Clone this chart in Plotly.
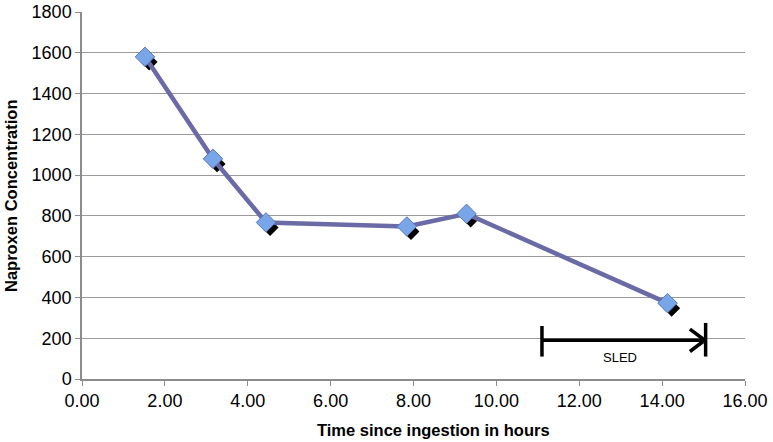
import plotly.graph_objects as go

hours = [1.52, 3.16, 4.44, 7.84, 9.28, 14.13]
concentration = [1580, 1080, 768, 748, 810, 372]

x_ticks = [0, 2, 4, 6, 8, 10, 12, 14, 16]
x_tick_labels = ["0.00", "2.00", "4.00", "6.00", "8.00", "10.00", "12.00", "14.00", "16.00"]
y_ticks = [0, 200, 400, 600, 800, 1000, 1200, 1400, 1600, 1800]

x_title = "Time since ingestion in hours"
y_title = "Naproxen Concentration"

sled_start, sled_end, sled_level = 11.1, 15.05, 190
sled_label = "SLED"

W, H = 773, 442
l, r, t, b = 82, 28, 12, 442 - 379
pw, ph = W - l - r, H - t - b


def px_to_paper(px, py):
    return (px - l) / pw, (H - b - py) / ph


fig = go.Figure()

# shadow markers
fig.add_trace(go.Scatter(
    x=[h + 0.1 for h in hours], y=[c - 25 for c in concentration],
    mode="markers",
    marker=dict(symbol="diamond", size=13, color="black"),
    hoverinfo="skip", showlegend=False))

fig.add_trace(go.Scatter(
    x=hours, y=concentration, mode="lines+markers",
    line=dict(color="#6a6aa6", width=4.5),
    marker=dict(symbol="diamond", size=15, color="#78a6e8",
                line=dict(color="#5a78b8", width=1)),
    showlegend=False))

shapes = []
lc = "black"
shapes.append(dict(type="line", xref="x", yref="y", x0=sled_start, x1=sled_end,
                   y0=sled_level, y1=sled_level, line=dict(color=lc, width=3.5)))
shapes.append(dict(type="line", xref="x", yref="y", x0=sled_start, x1=sled_start,
                   y0=sled_level - 80, y1=sled_level + 70, line=dict(color=lc, width=3.5)))
shapes.append(dict(type="line", xref="x", yref="y", x0=sled_end, x1=sled_end,
                   y0=sled_level - 80, y1=sled_level + 85, line=dict(color=lc, width=3.5)))
shapes.append(dict(type="line", xref="x", yref="y", x0=sled_end - 0.38, x1=sled_end - 0.02,
                   y0=sled_level + 55, y1=sled_level, line=dict(color=lc, width=3.5)))
shapes.append(dict(type="line", xref="x", yref="y", x0=sled_end - 0.38, x1=sled_end - 0.02,
                   y0=sled_level - 55, y1=sled_level, line=dict(color=lc, width=3.5)))

xt_x, xt_y = px_to_paper(433, 430)
yt_x, yt_y = px_to_paper(11, 196)

fig.update_layout(
    width=W, height=H,
    margin=dict(l=l, r=r, t=t, b=b),
    paper_bgcolor="white", plot_bgcolor="white",
    font=dict(family="Liberation Sans, Arial, sans-serif", color="black", size=18),
    shapes=shapes,
    annotations=[
        dict(x=(sled_start + sled_end) / 2 - 0.1, y=sled_level - 85, xref="x", yref="y",
             text=sled_label, showarrow=False,
             font=dict(size=13, family="Liberation Sans Narrow, Liberation Sans, sans-serif")),
        dict(x=xt_x, y=xt_y, xref="paper", yref="paper", text="<b>" + x_title + "</b>",
             xanchor="center", yanchor="middle",
             showarrow=False, font=dict(size=16.5)),
        dict(x=yt_x, y=yt_y, xref="paper", yref="paper", text="<b>" + y_title + "</b>",
             xanchor="center", yanchor="middle",
             textangle=-90, showarrow=False, font=dict(size=16.5)),
    ],
)

fig.update_xaxes(
    range=[0, 16], tickvals=x_ticks, ticktext=x_tick_labels, automargin=False,
    showgrid=False, zeroline=False, showline=True, linecolor="#8c8c8c", linewidth=1.5,
    ticks="outside", ticklen=5, tickcolor="#8c8c8c",
    tickfont=dict(size=18))
fig.update_yaxes(
    range=[0, 1800], tickvals=y_ticks, automargin=False,
    showgrid=True, gridcolor="#9a9a9a", gridwidth=1.2, zeroline=False,
    showline=True, linecolor="#8c8c8c", linewidth=1.5,
    ticks="outside", ticklen=5, tickcolor="#8c8c8c",
    tickfont=dict(size=18))

fig.write_html("out.html", config={"displayModeBar": False},
               post_script="document.body.style.margin='0';document.body.style.padding='0';")
